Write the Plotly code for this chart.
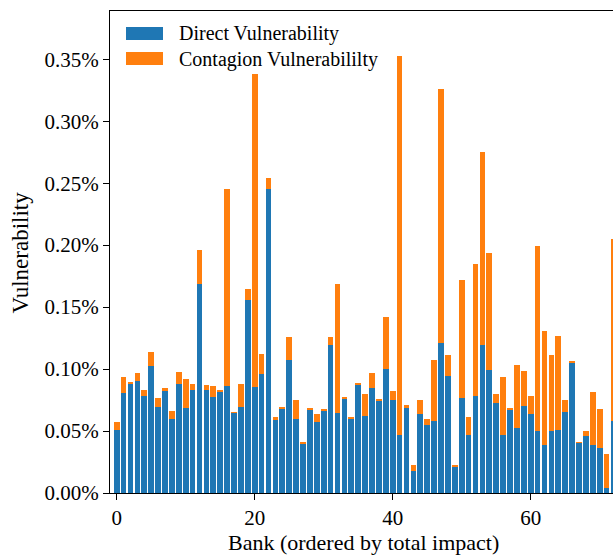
import plotly.graph_objects as go

# Bank index (ordered by total impact)
banks = list(range(73))

# Vulnerability in percent
direct = [0.0511, 0.0809, 0.0882, 0.0906, 0.0785, 0.1027, 0.0696, 0.0825, 0.0599, 0.0882,
          0.0688, 0.0834, 0.1690, 0.0834, 0.0777, 0.0817, 0.0866, 0.0648, 0.0696, 0.1559,
          0.0858, 0.0962, 0.2455, 0.0591, 0.0680, 0.1075, 0.0599, 0.0398, 0.0672, 0.0575,
          0.0664, 0.1196, 0.0648, 0.0761, 0.0599, 0.0874, 0.0623, 0.0850, 0.0745, 0.1003,
          0.0753, 0.0470, 0.0688, 0.0180, 0.0640, 0.0551, 0.0583, 0.1212, 0.0946, 0.0212,
          0.0769, 0.0470, 0.0785, 0.1196, 0.0995, 0.0728, 0.0470, 0.0672, 0.0527, 0.0704,
          0.0640, 0.0503, 0.0390, 0.0503, 0.0511, 0.0656, 0.1051, 0.0406, 0.0462, 0.0390,
          0.0366, 0.0043, 0.0583]

contagion = [0.0064, 0.0130, 0.0008, 0.0064, 0.0049, 0.0113, 0.0073, 0.0025, 0.0065, 0.0097,
             0.0234, 0.0048, 0.0272, 0.0040, 0.0089, 0.0013, 0.1589, 0.0003, 0.0186, 0.0089,
             0.2526, 0.0162, 0.0088, 0.0024, 0.0016, 0.0185, 0.0154, 0.0016, 0.0008, 0.0065,
             0.0008, 0.0064, 0.1040, 0.0008, 0.0008, 0.0016, 0.0178, 0.0120, 0.0008, 0.0419,
             0.0072, 0.3057, 0.0024, 0.0049, 0.0113, 0.0048, 0.0492, 0.2049, 0.0170, 0.0008,
             0.0952, 0.0145, 0.1065, 0.1557, 0.0943, 0.0073, 0.0469, 0.0008, 0.0508, 0.0283,
             0.0145, 0.1491, 0.0920, 0.0613, 0.0759, 0.0097, 0.0008, 0.0003, 0.0041, 0.0427,
             0.0314, 0.0274, 0.1468]

series_names = ["Direct Vulnerability", "Contagion Vulnerabililty"]
colors = ["#1f77b4", "#ff7f0e"]
x_ticks = [0, 20, 40, 60]
y_ticks = [0.00, 0.05, 0.10, 0.15, 0.20, 0.25, 0.30, 0.35]

FONT = "Liberation Serif"
W, H = 613, 557
ML, MT = 110, 11
MB = 64
PW = W - ML
PH = H - MT - MB

fig = go.Figure()
fig.add_trace(go.Bar(x=banks, y=direct, name=series_names[0], marker_color=colors[0],
                     marker_line_width=0, width=0.82))
fig.add_trace(go.Bar(x=banks, y=contagion, name=series_names[1], marker_color=colors[1],
                     marker_line_width=0, width=0.82))

def px_x(p):
    return (p - ML) / PW

def px_y(p):
    return (H - MB - p) / PH

shapes = []
annotations = []
legend_rows = [(27, 40, 33.5), (52, 65, 59.5)]
for (y0, y1, yc), name, col in zip(legend_rows, series_names, colors):
    shapes.append(dict(type="rect", xref="paper", yref="paper",
                       x0=px_x(126), x1=px_x(163), y0=px_y(y1), y1=px_y(y0),
                       fillcolor=col, line_width=0))
    annotations.append(dict(text=name, xref="paper", yref="paper", x=px_x(177), y=px_y(yc),
                            xanchor="left", yanchor="middle", showarrow=False,
                            font=dict(family=FONT, size=20, color="black")))

annotations.append(dict(text="Vulnerability", xref="paper", yref="paper", x=0, y=px_y(253),
                        xshift=-(ML - 19.5), xanchor="center", yanchor="middle", textangle=-90,
                        showarrow=False, font=dict(family=FONT, size=23, color="black")))
annotations.append(dict(text="Bank (ordered by total impact)", xref="paper", yref="paper",
                        x=px_x(363.5), y=0, yshift=-(542 - (H - MB)), xanchor="center",
                        yanchor="middle", showarrow=False,
                        font=dict(family=FONT, size=22, color="black")))

fig.update_layout(
    width=W, height=H,
    margin=dict(l=ML, r=0, t=MT, b=MB, pad=0),
    barmode="stack",
    showlegend=False,
    plot_bgcolor="white", paper_bgcolor="white",
    font=dict(family=FONT, size=21, color="black"),
    shapes=shapes, annotations=annotations,
    xaxis=dict(range=[-0.97, 71.93], tickvals=x_ticks, ticktext=[str(t) for t in x_ticks],
               ticks="outside", ticklen=6, tickwidth=1.2, tickcolor="black",
               showline=True, linecolor="black", linewidth=1.3, mirror=True,
               showgrid=False, zeroline=False, tickfont=dict(family=FONT, size=21)),
    yaxis=dict(range=[0, 0.3889], tickvals=y_ticks,
               ticktext=[f"{t:.2f}%" for t in y_ticks],
               ticks="outside", ticklen=6, tickwidth=1.2, tickcolor="black",
               showline=True, linecolor="black", linewidth=1.3, mirror=False,
               showgrid=False, zeroline=False, tickfont=dict(family=FONT, size=21)),
)

fig.write_html("out.html")
